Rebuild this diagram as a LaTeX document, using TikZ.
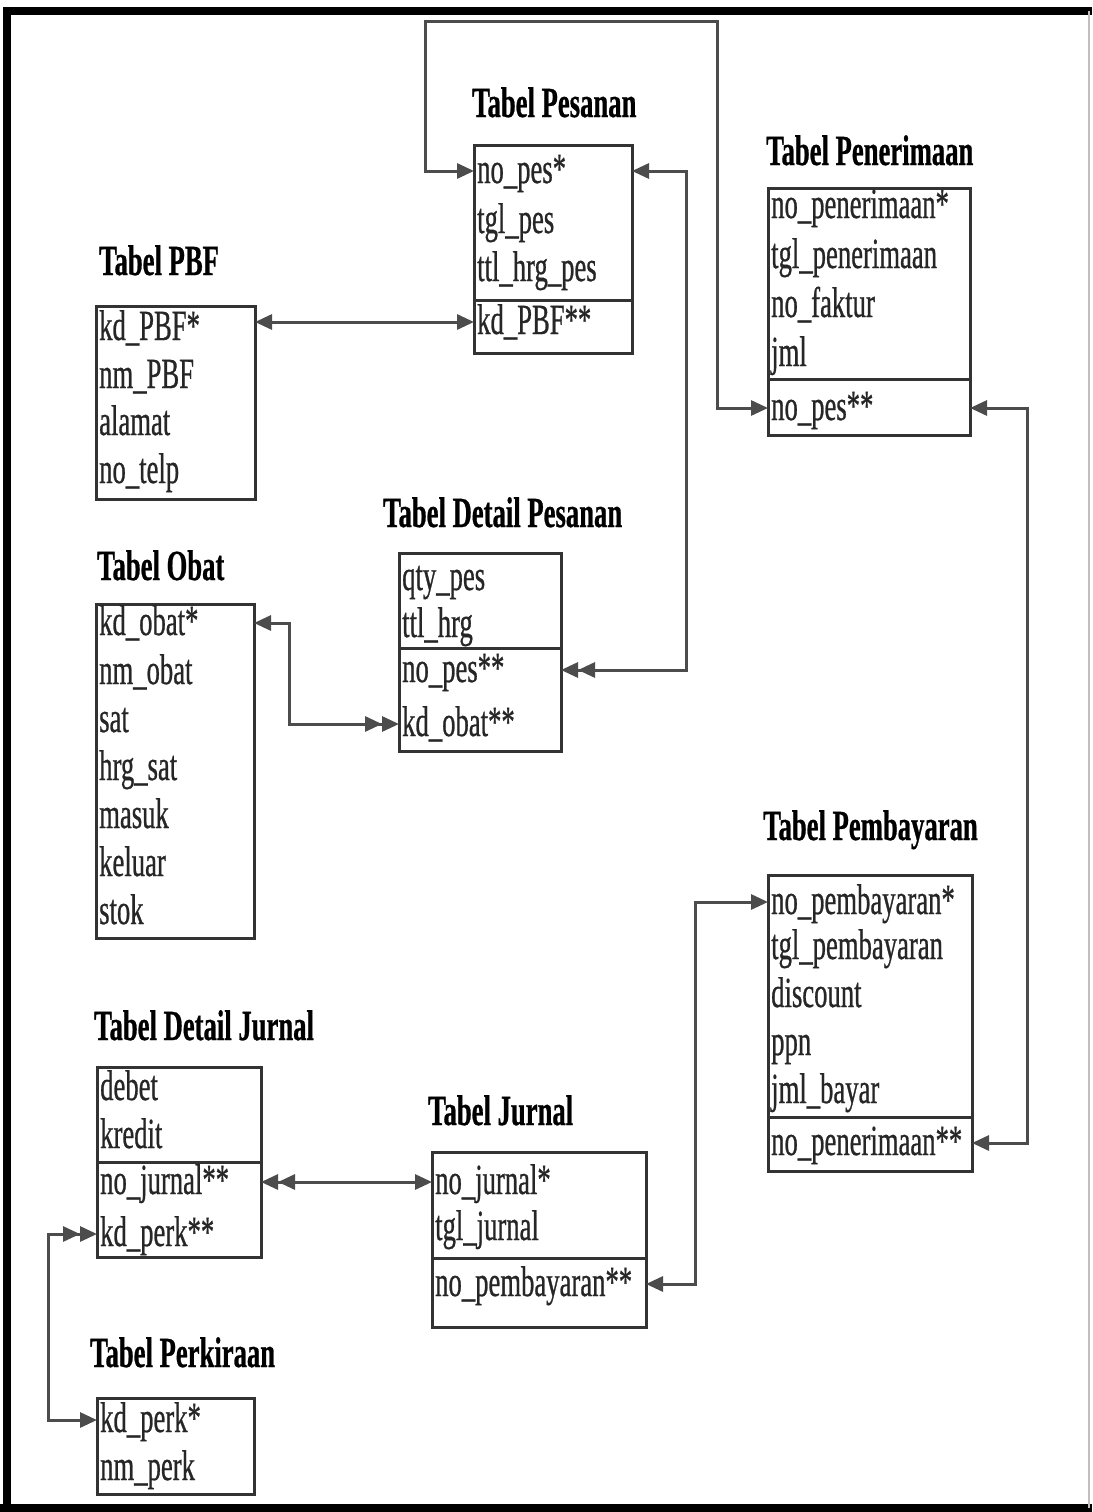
\documentclass[tikz,border=0pt]{standalone}
\usepackage{fontspec}
\setmainfont{Liberation Serif}
\newfontfamily\erdfont[FakeStretch=0.62,FakeBold=0.6]{Liberation Serif}
\usetikzlibrary{arrows.meta}
\begin{document}
\begin{tikzpicture}[x=1pt,y=-1pt,
  fld/.style={anchor=west, inner xsep=3pt, inner ysep=0pt, text height=32pt, text depth=8pt,
    font=\erdfont\fontsize{43}{48}\selectfont, text=black!85},
  ttl/.style={anchor=base west, inner sep=0pt, font=\erdfont\bfseries\fontsize{43}{48}\selectfont, text=black},
  tbox/.style={draw=black!80, line width=3pt, anchor=north west, inner sep=0pt, outer sep=0pt},
  div/.style={draw=black!80, line width=3pt},
  conn/.style={draw=black!70, line width=3pt},
  ah/.tip={Triangle[length=17pt,width=15pt]},
  ahh/.tip={Triangle[length=17pt,width=15pt] Triangle[length=17pt,width=15pt]},
]
\useasboundingbox (0,0) rectangle (1092,1512);
\fill[white] (0,0) rectangle (1092,1512);
% outer frame
\draw[line width=8pt, black] (7,1512) -- (7,11) -- (1092,11);
\draw[line width=8pt, black] (0,1508) -- (1092,1508);
\draw[line width=2pt, black!25] (1089,11) -- (1089,1508);

% ---------- Tabel Pesanan ----------
\node[ttl] (tpes) at (472,117) {Tabel Pesanan};
\node[tbox, minimum width=158pt, minimum height=208pt] (pes) at (474,145) {};
\draw[div] (pes.west |- 0,300) -- (pes.east |- 0,300);
\node[fld] (pes1) at (474,171) {no\_pes*};
\node[fld] (pes2) at (474,221) {tgl\_pes};
\node[fld] (pes3) at (474,269) {ttl\_hrg\_pes};
\node[fld] (pes4) at (474,322) {kd\_PBF**};

% ---------- Tabel PBF ----------
\node[ttl] (tpbf) at (99,275) {Tabel PBF};
\node[tbox, minimum width=159pt, minimum height=193pt] (pbf) at (96,306) {};
\node[fld] (pbf1) at (96,328) {kd\_PBF*};
\node[fld] (pbf2) at (96,376) {nm\_PBF};
\node[fld] (pbf3) at (96,423) {alamat};
\node[fld] (pbf4) at (96,471) {no\_telp};

% ---------- Tabel Penerimaan ----------
\node[ttl] (tpen) at (766,165) {Tabel Penerimaan};
\node[tbox, minimum width=202pt, minimum height=247pt] (pen) at (768,188) {};
\draw[div] (pen.west |- 0,379) -- (pen.east |- 0,379);
\node[fld] (pen1) at (768,206) {no\_penerimaan*};
\node[fld] (pen2) at (768,256) {tgl\_penerimaan};
\node[fld] (pen3) at (768,305) {no\_faktur};
\node[fld] (pen4) at (768,354) {jml};
\node[fld] (pen5) at (768,408) {no\_pes**};

% ---------- Tabel Detail Pesanan ----------
\node[ttl] (tdp) at (383,527) {Tabel Detail Pesanan};
\node[tbox, minimum width=162pt, minimum height=198pt] (dp) at (399,553) {};
\draw[div] (dp.west |- 0,648) -- (dp.east |- 0,648);
\node[fld] (dp1) at (399,578) {qty\_pes};
\node[fld] (dp2) at (399,625) {ttl\_hrg};
\node[fld] (dp3) at (399,670) {no\_pes**};
\node[fld] (dp4) at (399,724) {kd\_obat**};

% ---------- Tabel Obat ----------
\node[ttl] (tobat) at (97,580) {Tabel Obat};
\node[tbox, minimum width=158pt, minimum height=334pt] (obat) at (96,604) {};
\node[fld] (ob1) at (96,623) {kd\_obat*};
\node[fld] (ob2) at (96,672) {nm\_obat};
\node[fld] (ob3) at (96,720) {sat};
\node[fld] (ob4) at (96,768) {hrg\_sat};
\node[fld] (ob5) at (96,816) {masuk};
\node[fld] (ob6) at (96,864) {keluar};
\node[fld] (ob7) at (96,912) {stok};

% ---------- Tabel Pembayaran ----------
\node[ttl] (tpay) at (763,840) {Tabel Pembayaran};
\node[tbox, minimum width=204pt, minimum height=296pt] (pay) at (768,875) {};
\draw[div] (pay.west |- 0,1117) -- (pay.east |- 0,1117);
\node[fld] (pay1) at (768,902) {no\_pembayaran*};
\node[fld] (pay2) at (768,947) {tgl\_pembayaran};
\node[fld] (pay3) at (768,995) {discount};
\node[fld] (pay4) at (768,1043) {ppn};
\node[fld] (pay5) at (768,1091) {jml\_bayar};
\node[fld] (pay6) at (768,1143) {no\_penerimaan**};

% ---------- Tabel Detail Jurnal ----------
\node[ttl] (tdj) at (94,1040) {Tabel Detail Jurnal};
\node[tbox, minimum width=164pt, minimum height=190pt] (dj) at (97,1067) {};
\draw[div] (dj.west |- 0,1162) -- (dj.east |- 0,1162);
\node[fld] (dj1) at (97,1088) {debet};
\node[fld] (dj2) at (97,1136) {kredit};
\node[fld] (dj3) at (97,1182) {no\_jurnal**};
\node[fld] (dj4) at (97,1234) {kd\_perk**};

% ---------- Tabel Jurnal ----------
\node[ttl] (tjur) at (428,1125) {Tabel Jurnal};
\node[tbox, minimum width=214pt, minimum height=175pt] (jur) at (432,1152) {};
\draw[div] (jur.west |- 0,1258) -- (jur.east |- 0,1258);
\node[fld] (jur1) at (432,1182) {no\_jurnal*};
\node[fld] (jur2) at (432,1228) {tgl\_jurnal};
\node[fld] (jur3) at (432,1284) {no\_pembayaran**};

% ---------- Tabel Perkiraan ----------
\node[ttl] (tperk) at (90,1367) {Tabel Perkiraan};
\node[tbox, minimum width=157pt, minimum height=96pt] (perk) at (97,1398) {};
\node[fld] (perk1) at (97,1420) {kd\_perk*};
\node[fld] (perk2) at (97,1468) {nm\_perk};

% ---------- bend points ----------
\coordinate (c1) at (717,22);
\coordinate (c2) at (425,22);
\coordinate (c3) at (686,0);
\coordinate (c4) at (289,0);
\coordinate (c5) at (1027,0);
\coordinate (c6) at (695,0);
\coordinate (c8) at (48,0);

% ---------- connectors ----------
\draw[conn, {ah}-{ah}] (pbf.east |- pes4) -- (pes.west |- pes4);
\draw[conn, {ah}-{ah}] (pen.west |- pen5) -| (c1) -- (c2) |- (pes.west |- pes1);
\draw[conn, {ah}-{ahh}] (pes.east |- pes1) -| (c3 |- dp3) -- (dp.east |- dp3);
\draw[conn, {ah}-{ahh}] (obat.east |- ob1) -| (c4 |- dp4) -- (dp.west |- dp4);
\draw[conn, {ah}-{ah}] (pen.east |- pen5) -| (c5 |- pay6) -- (pay.east |- pay6);
\draw[conn, {ah}-{ah}] (pay.west |- pay1) -| (c6 |- jur3) -- (jur.east |- jur3);
\draw[conn, {ahh}-{ah}] (dj.east |- jur1) -- (jur.west |- jur1);
\draw[conn, {ahh}-{ah}] (dj.west |- dj4) -| (c8 |- perk1) -- (perk.west |- perk1);
\end{tikzpicture}
\end{document}
